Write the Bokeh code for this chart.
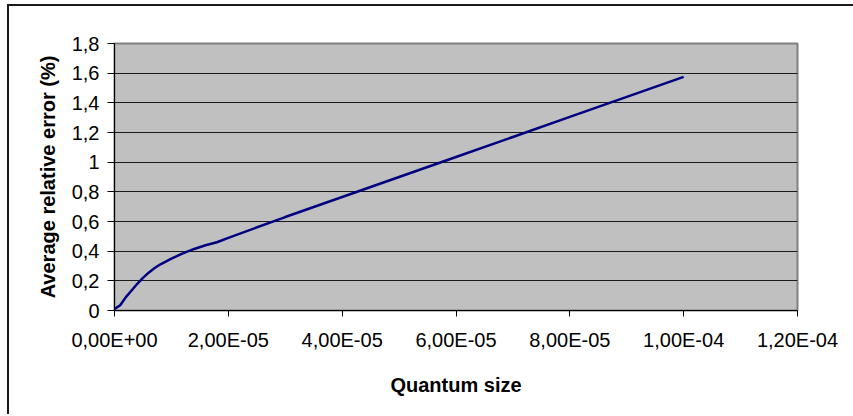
from bokeh.plotting import figure
from bokeh.models import FixedTicker, Range1d
from bokeh.embed import file_html
from bokeh.resources import INLINE

# Data
quantum_size = [0, 1e-6, 2e-6, 3e-6, 4e-6, 5e-6, 6e-6, 7e-6, 8e-6, 9e-6, 1e-5,
                1.2e-5, 1.4e-5, 1.6e-5, 1.8e-5, 2e-5, 3e-5, 4e-5, 5e-5, 6e-5,
                7e-5, 8e-5, 9e-5, 1e-4]
avg_rel_error = [0.01, 0.035, 0.09, 0.135, 0.18, 0.22, 0.255, 0.285, 0.31, 0.33, 0.35,
                 0.385, 0.415, 0.44, 0.46, 0.49, 0.63, 0.765, 0.90, 1.035,
                 1.17, 1.305, 1.44, 1.575]

x_ticks = [0, 2e-5, 4e-5, 6e-5, 8e-5, 1e-4, 1.2e-4]
x_tick_labels = ["0,00E+00", "2,00E-05", "4,00E-05", "6,00E-05", "8,00E-05", "1,00E-04", "1,20E-04"]
y_ticks = [0, 0.2, 0.4, 0.6, 0.8, 1.0, 1.2, 1.4, 1.6, 1.8]
y_tick_labels = ["0", "0,2", "0,4", "0,6", "0,8", "1", "1,2", "1,4", "1,6", "1,8"]

FONT = "Liberation Sans"

p = figure(frame_width=683, frame_height=267,
           min_border_left=105, min_border_top=37, min_border_right=56, min_border_bottom=104,
           x_range=Range1d(0, 1.2e-4), y_range=Range1d(0, 1.8),
           output_backend="svg", toolbar_location=None)

p.background_fill_color = "#C0C0C0"
p.border_fill_color = "white"
p.outline_line_color = "#808080"
p.outline_line_width = 2

p.line(quantum_size, avg_rel_error, line_color="#000080", line_width=2.5)

p.xgrid.visible = False
p.ygrid.ticker = FixedTicker(ticks=y_ticks)
p.ygrid.grid_line_color = "#1a1a1a"
p.ygrid.grid_line_width = 1

p.xaxis.ticker = FixedTicker(ticks=x_ticks)
p.xaxis.major_label_overrides = {t: l for t, l in zip(x_ticks, x_tick_labels)}
p.yaxis.ticker = FixedTicker(ticks=y_ticks)
p.yaxis.major_label_overrides = {t: l for t, l in zip(y_ticks, y_tick_labels)}

for ax in (p.xaxis[0], p.yaxis[0]):
    ax.axis_line_color = "black"
    ax.axis_line_width = 1
    ax.major_tick_line_color = "black"
    ax.major_tick_in = 0
    ax.minor_tick_line_color = None
    ax.major_label_text_font = FONT
    ax.major_label_text_font_size = "20px"
    ax.major_label_text_color = "black"
    ax.axis_label_text_font = FONT
    ax.axis_label_text_font_size = "20px"
    ax.axis_label_text_font_style = "bold"
    ax.axis_label_text_color = "black"

p.xaxis.major_tick_out = 6
p.xaxis.major_label_standoff = 12
p.xaxis.axis_label = "Quantum size"
p.xaxis.axis_label_standoff = 20

p.yaxis.major_tick_out = 7
p.yaxis.major_label_standoff = 8
p.yaxis.axis_label = "Average relative error (%)"
p.yaxis.axis_label_standoff = 10

p.styles = {"border-left": "2px solid #1a1a1a", "border-top": "2px solid #1a1a1a",
            "margin-left": "7px", "margin-top": "4px"}

open("out.html", "w").write(file_html(p, INLINE))
